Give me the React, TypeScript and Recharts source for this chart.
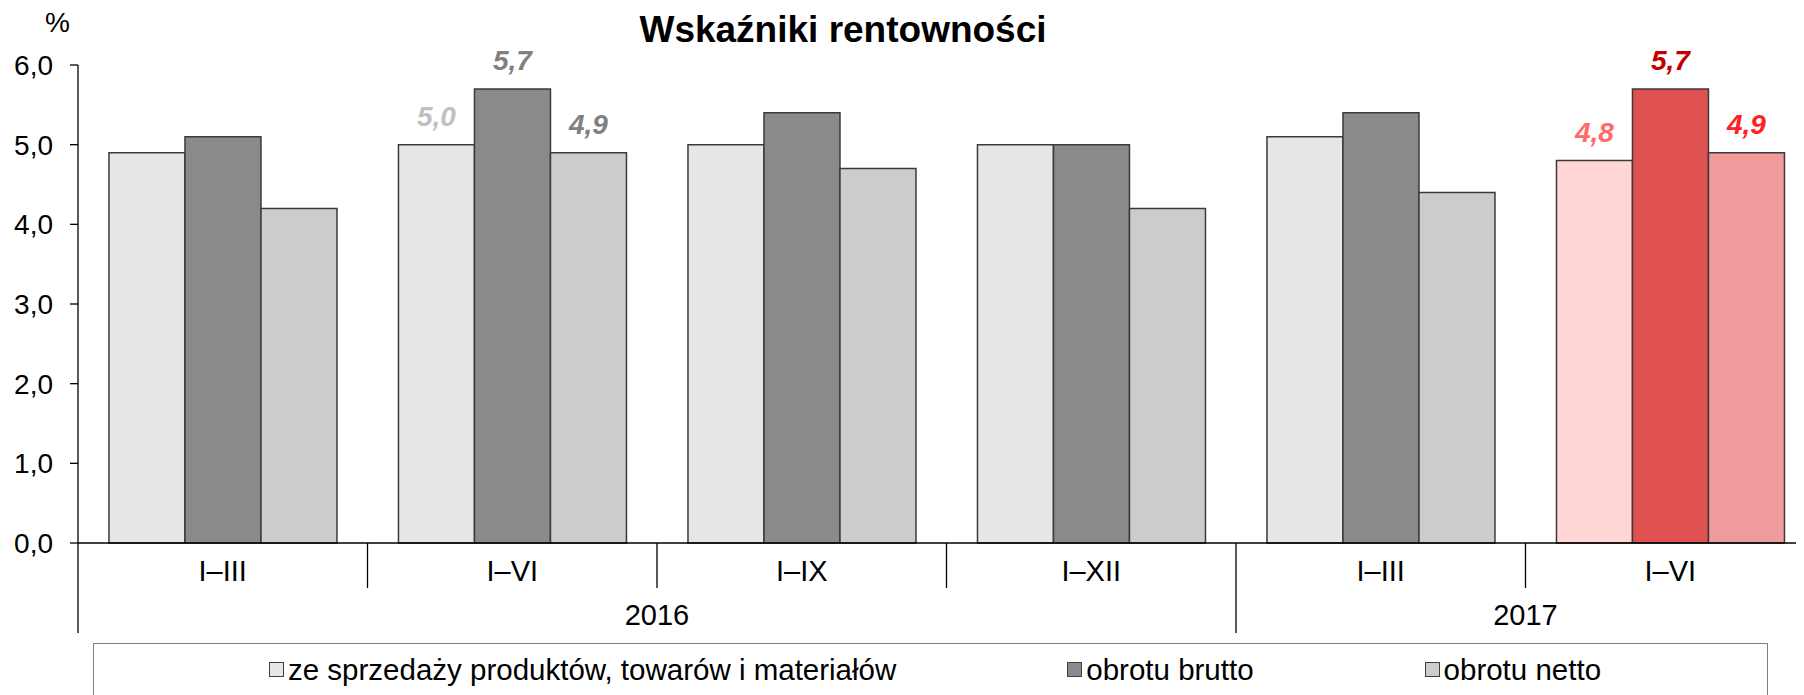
import { BarChart, Bar, XAxis, YAxis, Cell, LabelList, Legend } from 'recharts';

// dane z wykresu
const PERIODS = ['I–III', 'I–VI', 'I–IX', 'I–XII', 'I–III', 'I–VI'];
const YEARS = ['2016', '2016', '2016', '2016', '2017', '2017'];
const SPRZEDAZ = [4.9, 5.0, 5.0, 5.0, 5.1, 4.8];
const BRUTTO = [5.1, 5.7, 5.4, 5.0, 5.4, 5.7];
const NETTO = [4.2, 4.9, 4.7, 4.2, 4.4, 4.9];
const Y_TICKS = [0, 1, 2, 3, 4, 5, 6];
const SERIES_NAMES = ['ze sprzedaży produktów, towarów i materiałów', 'obrotu brutto', 'obrotu netto'];

// kolory
const BASE_COLORS = ['#e6e6e6', '#8a8a8a', '#cccccc'];
const HIGHLIGHT_COLORS = ['#ffd5d5', '#e05252', '#f09c9c'];
const HIGHLIGHT_INDEX = 5;
// kolory etykiet (null = brak etykiety)
const LABEL_COLORS = [
    [null, '#c0c0c0', null, null, null, '#ff6b6b'],
    [null, '#808080', null, null, null, '#c00000'],
    [null, '#808080', null, null, null, '#ff2222'],
];

const FONT = '"Liberation Sans", Arial, sans-serif';
const WIDTH = 1807;
const HEIGHT = 687;
const BASE_Y = 535;
const PERIOD_BASELINE = 573;
const YEAR_BASELINE = 617;
const SHORT_LINE_END = 580;
const LONG_LINE_END = 625;
const BAND_HALF = (WIDTH - 70) / PERIODS.length / 2;

const data = PERIODS.map((p, i) => ({
    id: `${p} ${YEARS[i]}`,
    s1: SPRZEDAZ[i],
    s2: BRUTTO[i],
    s3: NETTO[i],
}));

const fmt = (v: number) => v.toFixed(1).replace('.', ',');

function PeriodTick(props: any) {
    const { x, payload } = props;
    const i = payload.index;
    const half = payload.offset || BAND_HALF;
    const left = x - half;
    const year = YEARS[i];
    const first = i === 0 || YEARS[i - 1] !== year;
    const count = YEARS.filter((y) => y === year).length;
    return (
        <g>
            <line x1={left} x2={left} y1={BASE_Y} y2={first ? LONG_LINE_END : SHORT_LINE_END} stroke="#000" strokeWidth={1.3} />
            <text x={x} y={PERIOD_BASELINE} textAnchor="middle" fontSize={29} fontFamily={FONT} fill="#000">
                {PERIODS[i]}
            </text>
            {first && (
                <text x={left + half * count} y={YEAR_BASELINE} textAnchor="middle" fontSize={29} fontFamily={FONT} fill="#000">
                    {year}
                </text>
            )}
        </g>
    );
}

function makeLabel(series: number) {
    return (props: any) => {
        const { x, y, width, value, index } = props;
        const color = LABEL_COLORS[series][index];
        if (!color) return null;
        return (
            <text x={x + width / 2} y={y - 19} textAnchor="middle" fontSize={28} fontWeight="bold" fontStyle="italic" fontFamily={FONT} fill={color}>
                {fmt(value)}
            </text>
        );
    };
}

// jednostka nad osią Y
function UnitLabel(props: any) {
    const { viewBox } = props;
    return (
        <text x={viewBox.x + 49.5} y={viewBox.y - 33} textAnchor="middle" fontSize={28} fontFamily={FONT} fill="#000">
            %
        </text>
    );
}

function LegendBox() {
    return (
        <div style={{ position: 'relative', border: '1.5px solid #7f7f7f', height: 80, boxSizing: 'border-box', fontFamily: FONT, fontSize: 29.5 }}>
            <div style={{ position: 'absolute', left: 175, top: 11, display: 'flex', gap: 171, lineHeight: '29px', alignItems: 'center' }}>
                {SERIES_NAMES.map((name, i) => (
                    <div key={name} style={{ display: 'flex', alignItems: 'center', whiteSpace: 'nowrap' }}>
                        <span style={{ width: 13, height: 13, background: BASE_COLORS[i], border: '1px solid #404040', marginRight: 4, display: 'inline-block' }} />
                        <span>{name}</span>
                    </div>
                ))}
            </div>
        </div>
    );
}

export default function App() {
    const keys = ['s1', 's2', 's3'];
    return (
        <div style={{ position: 'relative', width: 1796, height: HEIGHT, overflow: 'hidden' }}>
            <div style={{ position: 'absolute', left: 835, top: 3, transform: 'translateX(-50%)', fontFamily: FONT, fontSize: 37, fontWeight: 'bold', lineHeight: 1, whiteSpace: 'nowrap', zIndex: 2 }}>
                Wskaźniki rentowności
            </div>
            <BarChart width={WIDTH} height={HEIGHT} data={data} margin={{ top: 57, right: 0, left: 0, bottom: 52 }} barCategoryGap="10.7%" barGap={0}>
                <XAxis
                    dataKey="id"
                    height={100}
                    interval={0}
                    tickLine={false}
                    axisLine={{ stroke: '#000', strokeWidth: 1.3 }}
                    tick={<PeriodTick />}
                />
                <YAxis
                    width={70}
                    domain={[0, 6]}
                    ticks={Y_TICKS}
                    tickFormatter={fmt}
                    tickSize={8}
                    tickMargin={17}
                    axisLine={{ stroke: '#000', strokeWidth: 1.3 }}
                    tickLine={{ stroke: '#000', strokeWidth: 1.3 }}
                    tick={{ fill: '#000', fontSize: 28, fontFamily: FONT }}
                    label={<UnitLabel />}
                />
                <Legend
                    layout="horizontal"
                    verticalAlign="middle"
                    align="center"
                    wrapperStyle={{ left: 85, top: 635, width: 1675, height: 80 }}
                    content={() => <LegendBox />}
                />
                {keys.map((k, s) => (
                    <Bar key={k} dataKey={k} name={SERIES_NAMES[s]} fill={BASE_COLORS[s]} stroke="#3a3a3a" strokeWidth={1.5} isAnimationActive={false}>
                        {data.map((_, i) => (
                            <Cell key={i} fill={i === HIGHLIGHT_INDEX ? HIGHLIGHT_COLORS[s] : BASE_COLORS[s]} />
                        ))}
                        <LabelList dataKey={k} content={makeLabel(s)} />
                    </Bar>
                ))}
            </BarChart>
        </div>
    );
}
